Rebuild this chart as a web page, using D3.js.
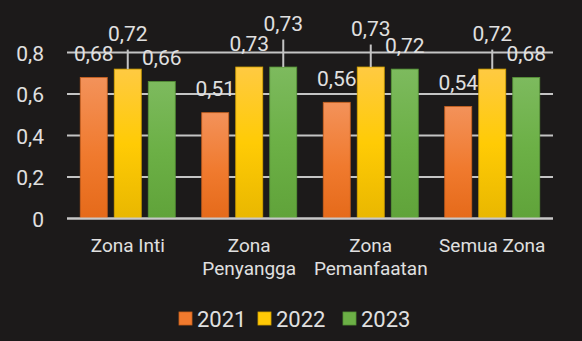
<!DOCTYPE html>
<html>
<head>
<meta charset="utf-8">
<script src="https://cdn.jsdelivr.net/npm/d3@7"></script>
<style>
  html, body { margin: 0; padding: 0; background: #1c1a1a; }
  svg { display: block; }
</style>
</head>
<body>
<svg id="chart" width="582" height="341"></svg>
<script>
// Index values per zone and year
const categories = [["Zona Inti"], ["Zona", "Penyangga"], ["Zona", "Pemanfaatan"], ["Semua Zona"]];
const years = ["2021", "2022", "2023"];
const values2021 = [0.68, 0.51, 0.56, 0.54];
const values2022 = [0.72, 0.73, 0.73, 0.72];
const values2023 = [0.66, 0.73, 0.72, 0.68];
const yTicks = [0, 0.2, 0.4, 0.6, 0.8];
const yTickLabels = ["0", "0,2", "0,4", "0,6", "0,8"];

const seriesValues = [values2021, values2022, values2023];
const catKeys = categories.map(c => c.join(" "));

const W = 582, H = 341;
const plot = { left: 67, right: 553, top: 52.5, bottom: 218.5 };
const svg = d3.select("#chart");
svg.append("rect").attr("width", W).attr("height", H).attr("fill", "#1c1a1a");

const y = d3.scaleLinear().domain([0, 0.8]).range([plot.bottom, plot.top]);
const x0 = d3.scaleBand().domain(catKeys).range([plot.left, plot.right])
  .paddingInner(0.218).paddingOuter(0.109);
const x1 = d3.scaleBand().domain(years).range([0, x0.bandwidth()])
  .paddingInner(0.206).paddingOuter(0);

// gradients for bar fills
const defs = svg.append("defs");
const gradStops = {
  "2021": [["0%", "#f3925a"], ["55%", "#f07a2e"], ["100%", "#e56a1a"]],
  "2022": [["0%", "#ffca42"], ["50%", "#ffcb05"], ["100%", "#e9b700"]],
  "2023": [["0%", "#7dba5e"], ["50%", "#6cb046"], ["100%", "#60a33a"]]
};
years.forEach(yr => {
  const g = defs.append("linearGradient").attr("id", "g" + yr)
    .attr("x1", 0).attr("y1", 0).attr("x2", 0).attr("y2", 1);
  gradStops[yr].forEach(([o, c]) => g.append("stop").attr("offset", o).attr("stop-color", c));
});
const edge = { "2021": "#c9601c", "2022": "#d4a400", "2023": "#559336" };

// gridlines
svg.append("g").selectAll("line").data(yTicks).join("line")
  .attr("x1", plot.left).attr("x2", plot.right)
  .attr("y1", d => y(d)).attr("y2", d => y(d))
  .attr("stroke", "#c4c4c4").attr("stroke-width", 2);

// y-axis labels
const yAxis = d3.axisLeft(y).tickValues(yTicks)
  .tickFormat((d, i) => yTickLabels[i]).tickSize(0).tickPadding(0);
const yg = svg.append("g").attr("transform", `translate(${44},0)`).call(yAxis);
yg.select(".domain").remove();
yg.selectAll("text")
  .attr("fill", "#e0e0e0").style("font-family", "Roboto, sans-serif")
  .style("font-size", "21px").attr("dy", "0.36em");

// bars
const rows = [];
catKeys.forEach((c, ci) => years.forEach((yr, si) => rows.push({ c, ci, yr, v: seriesValues[si][ci] })));

svg.append("g").selectAll("rect").data(rows).join("rect")
  .attr("x", d => x0(d.c) + x1(d.yr))
  .attr("y", d => y(d.v))
  .attr("width", x1.bandwidth())
  .attr("height", d => y(0) - y(d.v))
  .attr("fill", d => `url(#g${d.yr})`)
  .attr("stroke", d => edge[d.yr]).attr("stroke-width", 0.8);

// baseline over bar feet
svg.append("line").attr("x1", plot.left).attr("x2", plot.right)
  .attr("y1", y(0)).attr("y2", y(0)).attr("stroke", "#c8c8c8").attr("stroke-width", 2);

// data labels; a few are lifted with a leader line to avoid crowding
const lift = { "Zona Inti|2022": 12, "Zona Penyangga|2023": 20, "Zona Pemanfaatan|2022": 15, "Semua Zona|2022": 12 };
const labelG = svg.append("g");
rows.forEach(d => {
  const cx = x0(d.c) + x1(d.yr) + x1.bandwidth() / 2;
  const top = y(d.v);
  const extra = lift[d.c + "|" + d.yr] || 0;
  const cy = top - 24 - extra;
  if (extra) {
    labelG.append("line").attr("x1", cx).attr("x2", cx)
      .attr("y1", top).attr("y2", cy + 16.5)
      .attr("stroke", "#c4c4c4").attr("stroke-width", 2);
  }
  labelG.append("text").attr("x", cx).attr("y", cy).attr("dy", "0.36em")
    .attr("text-anchor", "middle").attr("fill", "#e0e0e0")
    .style("font-family", "Roboto, sans-serif").style("font-size", "21px")
    .text(d3.format(".2f")(d.v).replace(".", ","));
});

// category labels
const catG = svg.append("g");
categories.forEach((lines, i) => {
  const cx = x0(catKeys[i]) + x0.bandwidth() / 2;
  const t = catG.append("text").attr("x", cx).attr("y", 252)
    .attr("text-anchor", "middle").attr("fill", "#e0e0e0")
    .style("font-family", "Roboto, sans-serif").style("font-size", "19px");
  lines.forEach((ln, k) => t.append("tspan").attr("x", cx)
    .attr("dy", k === 0 ? 0 : 23).text(ln));
});

// legend
const legendColor = { "2021": "#f07a2e", "2022": "#ffc906", "2023": "#6cb046" };
const legX = [179, 258, 343];
const leg = svg.append("g");
years.forEach((yr, i) => {
  leg.append("rect").attr("x", legX[i]).attr("y", 312).attr("width", 13).attr("height", 13)
    .attr("fill", legendColor[yr]).attr("stroke", edge[yr]).attr("stroke-width", 0.8);
  leg.append("text").attr("x", legX[i] + 18).attr("y", 326.5)
    .attr("fill", "#e0e0e0").style("font-family", "'Liberation Sans Narrow', Roboto, sans-serif")
    .style("font-size", "22px").text(yr);
});
</script>
</body>
</html>
